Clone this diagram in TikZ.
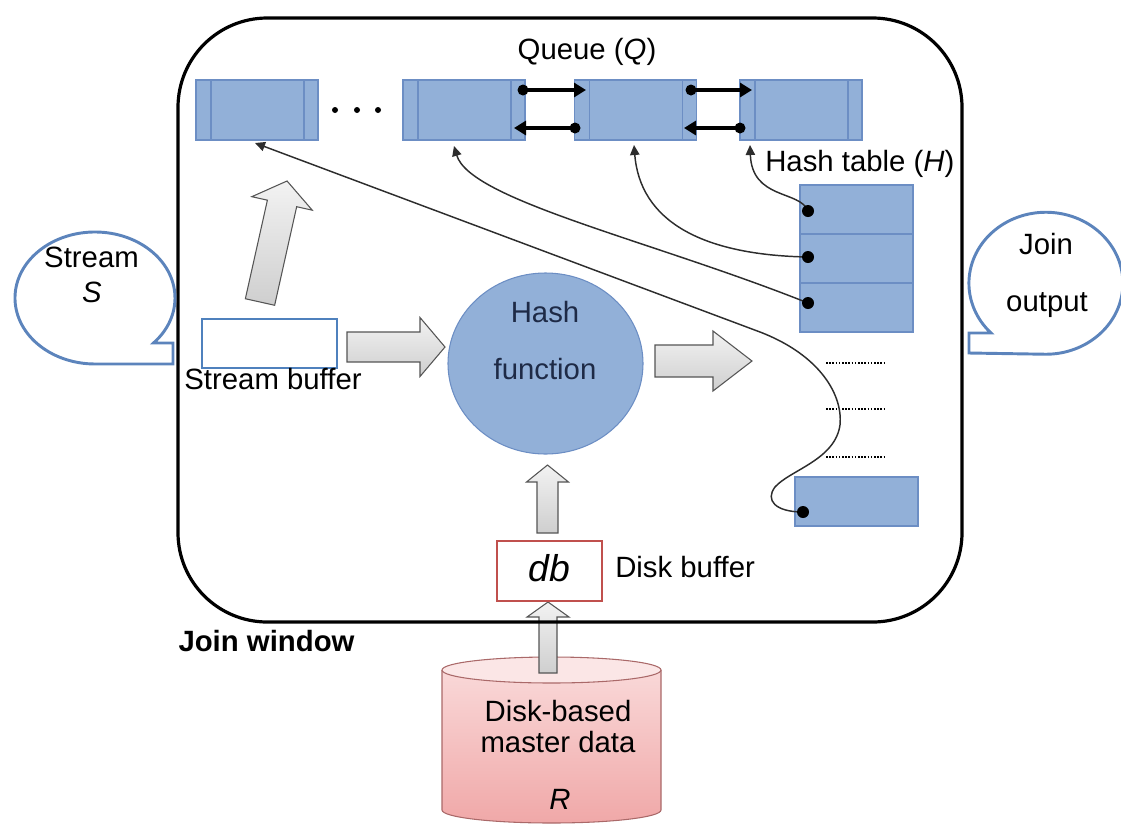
\documentclass[tikz,border=0pt]{standalone}
\usepackage{fontspec}
\setmainfont{Liberation Sans}
\usetikzlibrary{arrows.meta,calc,shapes.geometric}

\definecolor{qfill}{RGB}{146,176,216}
\definecolor{qline}{RGB}{108,142,196}
\definecolor{bubble}{RGB}{92,132,188}
\definecolor{sbline}{RGB}{79,129,189}
\definecolor{dbred}{RGB}{192,80,77}
\definecolor{navy}{RGB}{30,42,70}
\definecolor{cyltop}{RGB}{250,220,220}
\definecolor{cylbot}{RGB}{240,168,168}
\definecolor{cylline}{RGB}{170,105,105}
\definecolor{fatedge}{RGB}{85,85,85}
\definecolor{wire}{RGB}{45,45,45}

\def\u{0.75pt}

\tikzset{
  lbl/.style={inner sep=0pt, text height=0.72em, text depth=0pt},
  qcell/.style={draw=qline, fill=qfill, line width=0.8pt, inner sep=0pt,
    minimum width=122*\u, minimum height=60*\u,
    path picture={
      \draw[qline, line width=0.8pt]
        ([xshift=15*\u]path picture bounding box.north west) --
        ([xshift=15*\u]path picture bounding box.south west);
      \draw[qline, line width=0.8pt]
        ([xshift=-14*\u]path picture bounding box.north east) --
        ([xshift=-14*\u]path picture bounding box.south east);
    }},
  hcell/.style={draw=qline, fill=qfill, line width=0.8pt, inner sep=0pt,
    minimum width=113*\u, minimum height=49*\u},
  fatarrow/.style={draw=fatedge, line width=0.8pt,
    top color=gray!10, bottom color=gray!38},
  link/.style={draw=wire, line width=1.1pt,
    -{Triangle[length=7.5pt,width=7pt]}},
  qlink/.style={draw=black, line width=3pt,
    -{Triangle[length=9pt,width=10.5pt]}},
  bub/.style={draw=bubble, line width=2.2pt, fill=white},
  pics/fat/.style n args={4}{code={
    \path[fatarrow] (0,-#2) -- ({#1-#4},-#2) -- ({#1-#4},-#3) -- (#1,0)
      -- ({#1-#4},#3) -- ({#1-#4},#2) -- (0,#2) -- cycle;
  }},
}

\begin{document}
\begin{tikzpicture}[x=0.75pt, y=0.75pt, font=\fontsize{22}{26}\selectfont]
\useasboundingbox (0,0) rectangle (1121,-826);

% ---------- disk-based master data (cylinder) ----------
\path[top color=cyltop, bottom color=cylbot]
  (442,-670) -- (442,-810)
  arc[start angle=180, end angle=360, x radius=109.5, y radius=13]
  -- (661,-670)
  arc[start angle=0, end angle=180, x radius=109.5, y radius=13] -- cycle;
\draw[cylline, line width=0.8pt]
  (442,-670) -- (442,-810)
  arc[start angle=180, end angle=360, x radius=109.5, y radius=13]
  -- (661,-670);
\filldraw[fill=cyltop!70!white, draw=cylline, line width=0.8pt]
  (551.5,-670) ellipse[x radius=109.5, y radius=13];
\coordinate (cylR) at (551.5,-670);
\node[lbl] (rt1) at (558,-717) {Disk-based};
\node[lbl] (rt2) at (558,-748) {master data};
\node[lbl] (rt3) at (560,-805) {\itshape R};

% cylinder -> disk buffer
\pic at (548,-673) [rotate=90] {fat={71}{9}{21}{15}};

% ---------- join window ----------
\draw[black, line width=2.4pt, rounded corners=67pt] (178,-18) rectangle (962,-622);
\node[lbl, font=\fontsize{22}{26}\selectfont\bfseries] (jw) at (266.5,-647) {Join window};

% ---------- disk buffer ----------
\node[draw=dbred, line width=2.2pt, fill=white, inner sep=0pt,
      minimum width=105*\u, minimum height=60*\u] (db) at (549.5,-571) {};
\node[lbl, font=\fontsize{28}{32}\selectfont\itshape] (dbt) at (549,-577) {db};
\node[lbl, anchor=west] (dbl) at (615,-573) {Disk buffer};

% disk buffer -> hash function
\pic at (547.5,-533) [rotate=90] {fat={68}{10.5}{21}{17}};

% ---------- queue ----------
\node[lbl] (qlabel) at (587,-55) {Queue (\textit{Q})};
\node[qcell] (q1) at (257,-110) {};
\node[qcell] (q2) at (464,-110) {};
\node[qcell] (q3) at (635.5,-110) {};
\node[qcell] (q4) at (801,-110) {};
\foreach \x in {335,357,378} \fill (\x,-110) circle[radius=3];

\coordinate (a1s) at (523,-90);  \coordinate (a1e) at (586,-90);
\coordinate (a2s) at (575,-128); \coordinate (a2e) at (514,-128);
\coordinate (a3s) at (691,-90);  \coordinate (a3e) at (752,-90);
\coordinate (a4s) at (740,-128); \coordinate (a4e) at (684,-128);
\foreach \s/\e in {a1s/a1e,a2s/a2e,a3s/a3e,a4s/a4e}{
  \fill (\s) circle[radius=5.5];
  \draw[qlink] (\s) -- (\e);
}

% ---------- hash table ----------
\node[lbl, anchor=west] (hlabel) at (765,-167) {Hash table (\textit{H})};
\node[hcell] (h1) at (856.5,-209.5) {};
\node[hcell] (h2) at (856.5,-258.5) {};
\node[hcell] (h3) at (856.5,-307.5) {};
\node[hcell, minimum width=123*\u] (hb) at (856.5,-501.5) {};
\foreach \y in {363,409,457}
  \draw[black, line width=1.5pt, dash pattern=on 1.2pt off 1.2pt] (826,-\y) -- (886,-\y);

\coordinate (d1) at (808,-211);
\coordinate (d2) at (808,-257);
\coordinate (d3) at (808,-303);
\coordinate (d4) at (803,-512);
\coordinate (t1) at (255,-143);
\coordinate (t2) at (454,-146);
\coordinate (t3) at (634,-145);
\coordinate (t4) at (750,-145);

\draw[link] (d1) .. controls (800,-190) and (752,-200) .. (t4);
\draw[link] (d2) .. controls (700,-255) and (640,-220) .. (t3);
\draw[link] (d3) .. controls (650,-240) and (470,-200) .. (t2);
\draw[link] (d4) .. controls (775,-512) and (765,-500) .. (775,-487)
  .. controls (790,-470) and (835,-460) .. (840,-425)
  .. controls (843,-395) and (820,-355) .. (760,-332) -- (t1);
\foreach \d in {d1,d2,d3,d4} \fill[black] (\d) circle[radius=6];

% ---------- stream buffer and hash function ----------
\node[draw=sbline, line width=2.2pt, fill=white, inner sep=0pt,
      minimum width=135*\u, minimum height=49*\u] (sb) at (269.5,-343.5) {};
\node[lbl] (sbl) at (273,-385) {Stream buffer};

\node[ellipse, draw=qline, fill=qfill, line width=0.8pt, inner sep=0pt,
      minimum width=195*\u, minimum height=181*\u] (hf) at (545.5,-363.5) {};
\node[lbl, text=navy] (hft1) at (545,-318) {Hash};
\node[lbl, text=navy] (hft2) at (545,-375) {function};

% flow arrows
\pic at (260,-302) [rotate=77.4] {fat={124}{15}{31}{23}};
\pic at (347,-347) {fat={98}{15}{29.5}{25}};
\pic at (655,-361) {fat={97}{16}{30}{39}};

% ---------- callouts ----------
\draw[bub] (153.5,-343) arc[start angle=-43, end angle=270, x radius=80, y radius=66]
  -- (173,-364) -- (173,-343) -- cycle;
\node[lbl] (st1) at (91.5,-263) {Stream};
\node[lbl] (st2) at (92,-298) {\itshape S};

\draw[bub] (991,-333) arc[start angle=224.5, end angle=-90, x radius=77, y radius=71]
  -- (969,-353) -- (969,-333) -- cycle;
\node[lbl] (jo1) at (1046,-250) {Join};
\node[lbl] (jo2) at (1047,-307) {output};
\end{tikzpicture}
\end{document}
